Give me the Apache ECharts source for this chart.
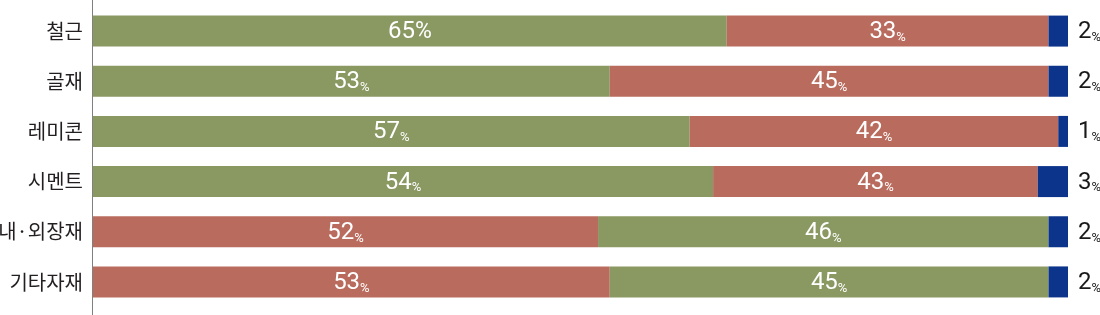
<!DOCTYPE html>
<html>
<head>
<meta charset="utf-8">
<script src="https://cdn.jsdelivr.net/npm/echarts@6/dist/echarts.min.js"></script>
<style>
  html, body { margin: 0; padding: 0; background: #fff; }
  #chart { width: 1100px; height: 315px; }
</style>
</head>
<body>
<div id="chart"></div>
<script>
// categories (top to bottom)
var categories = ["철근", "골재", "레미콘", "시멘트", "내·외장재", "기타자재"];

// segment lengths as drawn (left, middle, right)
var firstSeg = [65, 53, 61.2, 63.6, 51.8, 53];
var secondSeg = [33, 45, 37.8, 33.3, 46.2, 45];
var thirdSeg = [2, 2, 1, 3.1, 2, 2];

// printed labels
var firstLabel = [65, 53, 57, 54, 52, 53];
var secondLabel = [33, 45, 42, 43, 46, 45];
var thirdLabel = [2, 2, 1, 3, 2, 2];

// rows where the red part comes first
var redFirst = [false, false, false, false, true, true];

var GREEN = "#8a9862";
var RED = "#b96c5e";
var BLUE = "#0c348a";

var chartDom = document.getElementById("chart");
var myChart = echarts.init(chartDom);

function pctLabel(color) {
  return {
    show: true,
    color: color,
    formatter: function (p) {
      var v = p.data.label_;
      if (p.seriesIndex === 0 && p.dataIndex === 0) {
        return "{n|" + v + "}{b|%}";
      }
      return "{n|" + v + "}{s|%}";
    },
    rich: {
      n: { fontFamily: "Roboto", fontSize: 24, color: color, verticalAlign: "bottom", lineHeight: 26 },
      b: { fontFamily: "Roboto", fontSize: 23, color: color, verticalAlign: "bottom", lineHeight: 26 },
      s: { fontFamily: "Roboto", fontSize: 13, color: color, verticalAlign: "bottom", lineHeight: 22 },
    },
  };
}

function segData(vals, labels, colorFn) {
  return vals.map(function (v, i) {
    return { value: v, label_: labels[i], itemStyle: { color: colorFn(i) } };
  });
}

var option = {
  animation: false,
  grid: [
    { left: 93, top: 6, width: 975, height: 301, outerBoundsMode: "none", containLabel: false },
    { left: 92, top: 0, bottom: 0, width: 1, outerBoundsMode: "none", containLabel: false },
  ],
  xAxis: [
    { type: "value", min: 0, max: 100, gridIndex: 0, show: false },
    { type: "value", gridIndex: 1, show: false },
  ],
  yAxis: [
    {
      type: "category",
      data: categories,
      inverse: true,
      gridIndex: 0,
      axisLine: { show: false },
      axisTick: { show: false },
      axisLabel: {
        margin: 10,
        fontFamily: "Noto Sans CJK KR",
        fontSize: 20,
        color: "#231f20",
      },
    },
    {
      type: "category",
      gridIndex: 1,
      data: [],
      axisLine: { show: true, lineStyle: { color: "#808080", width: 1 } },
      axisTick: { show: false },
      axisLabel: { show: false },
    },
  ],
  series: [
    {
      type: "bar",
      stack: "all",
      barWidth: 31,
      data: segData(firstSeg, firstLabel, function (i) { return redFirst[i] ? RED : GREEN; }),
      label: Object.assign(pctLabel("#fff"), { position: "inside" }),
    },
    {
      type: "bar",
      stack: "all",
      barWidth: 31,
      data: segData(secondSeg, secondLabel, function (i) { return redFirst[i] ? GREEN : RED; }),
      label: Object.assign(pctLabel("#fff"), { position: "inside" }),
    },
    {
      type: "bar",
      stack: "all",
      barWidth: 31,
      data: segData(thirdSeg, thirdLabel, function () { return BLUE; }),
      label: Object.assign(pctLabel("#1a1a1a"), { position: "right", distance: 10 }),
    },
  ],
};

option && myChart.setOption(option);
</script>
</body>
</html>
